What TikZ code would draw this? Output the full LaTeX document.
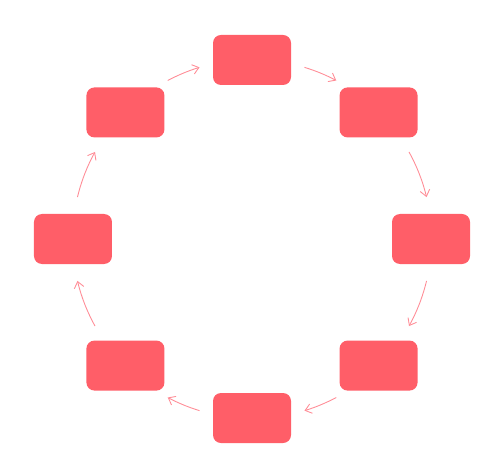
\documentclass[tikz,border=0pt]{standalone}
\usepackage{tikz}
\usetikzlibrary{arrows.meta}
\definecolor{boxred}{RGB}{255,94,104}
\definecolor{arrowpink}{RGB}{255,140,150}
\tikzstyle{stagebox} = [rectangle, minimum width=1.56cm, minimum height=1cm, rounded corners=0.16cm, fill=boxred, inner sep=0pt]
\tikzstyle{flow} = [draw=arrowpink, line width=0.5pt, -{Straight Barb[length=3.5pt, width=5.5pt]}]

\begin{document}
\begin{tikzpicture}
\useasboundingbox (-5.04,-4.52) rectangle (4.96,4.78);
\coordinate (hub) at (0,0);
\node (top) [stagebox] at ([shift={(90:3.58)}]hub) {};
\node (topright) [stagebox] at ([shift={(45:3.58)}]hub) {};
\node (right) [stagebox] at ([shift={(0:3.58)}]hub) {};
\node (botright) [stagebox] at ([shift={(-45:3.58)}]hub) {};
\node (bottom) [stagebox] at ([shift={(-90:3.58)}]hub) {};
\node (botleft) [stagebox] at ([shift={(-135:3.58)}]hub) {};
\node (left) [stagebox] at ([shift={(180:3.58)}]hub) {};
\node (topleft) [stagebox] at ([shift={(135:3.58)}]hub) {};
% clockwise ring of arrows between the boxes
\foreach \from/\to in {73/62, 29/13.5, -13.5/-29, -62/-73, -107/-118, -151/-166.5, 166.5/151, 118/107}
  \draw [flow] ([shift={(\from:3.59)}]hub) arc [start angle=\from, end angle=\to, radius=3.59];
\end{tikzpicture}
\end{document}
